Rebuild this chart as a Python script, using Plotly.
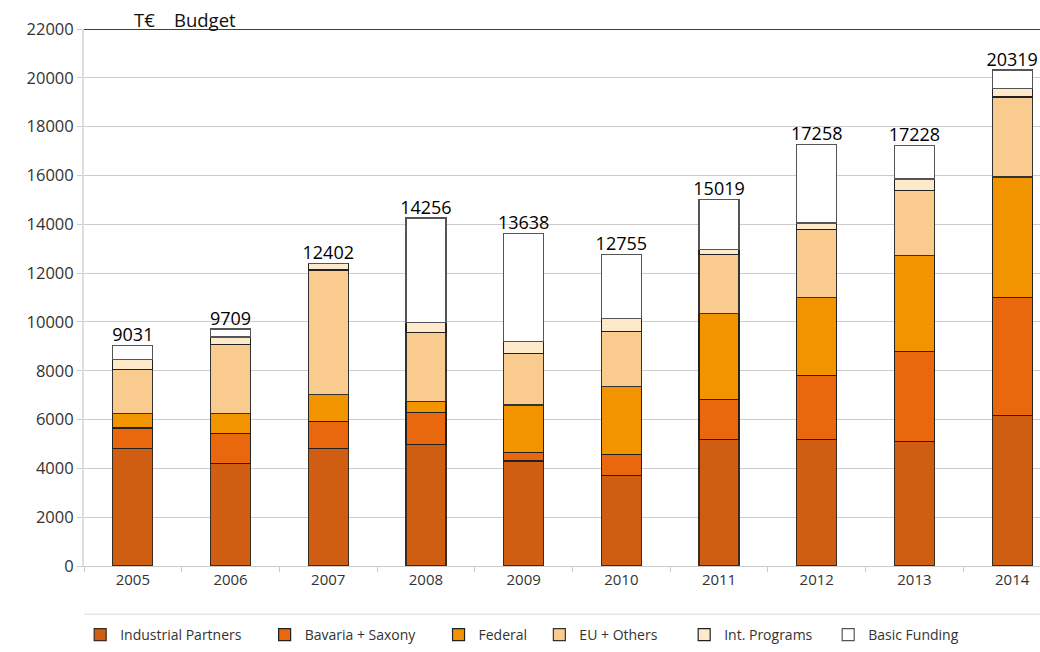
import plotly.graph_objects as go

years = ["2005", "2006", "2007", "2008", "2009", "2010", "2011", "2012", "2013", "2014"]
industrial = [4820, 4207, 4820, 4985, 4301, 3714, 5190, 5190, 5093, 6158]
bavaria = [830, 1230, 1107, 1311, 356, 861, 1639, 2607, 3701, 4848]
federal = [605, 820, 1092, 450, 1939, 2785, 3523, 3196, 3933, 4930]
eu_others = [1800, 2827, 5107, 2827, 2117, 2253, 2417, 2799, 2663, 3277]
int_programs = [410, 300, 276, 410, 491, 519, 191, 260, 465, 341]
totals = [9031, 9709, 12402, 14256, 13638, 12755, 15019, 17258, 17228, 20319]
basic = [t - a - b - c - d - e for t, a, b, c, d, e in
         zip(totals, industrial, bavaria, federal, eu_others, int_programs)]

NB = "\u00a0"
series = [
    ("Industrial Partners", industrial, "#D05E12", "#3a2a20", 5),
    ("Bavaria + Saxony", bavaria, "#E9680E", "#222222", 5),
    ("Federal", federal, "#F29400", "#222222", 2),
    ("EU + Others", eu_others, "#FACB8E", "#333333", 6),
    ("Int. Programs", int_programs, "#FEE9CA", "#222222", 3),
    ("Basic Funding", basic, "#FFFFFF", "#555555", 0),
]

fig = go.Figure()
for name, vals, color, line, pad in series:
    fig.add_trace(go.Bar(
        x=years, y=vals, name=name + NB * pad,
        marker=dict(color=color, line=dict(color=line, width=1.2)),
        hoverinfo="skip",
    ))

fig.add_trace(go.Scatter(
    x=years, y=totals, mode="text", text=[str(t) for t in totals],
    textposition="top center", showlegend=False,
    textfont=dict(size=18, color="#000000", family="Open Sans"),
    hoverinfo="skip", cliponaxis=False,
))

fig.update_layout(
    width=1040, height=652,
    margin=dict(l=84, r=0, t=29, b=86, autoexpand=False),
    paper_bgcolor="white", plot_bgcolor="white",
    barmode="stack", bargap=0.59,
    font=dict(family="Open Sans", color="#333333", size=14),
    showlegend=True,
    legend=dict(orientation="h", x=-0.004, xanchor="left",
                y=-0.1285, yanchor="middle",
                font=dict(size=14, color="#333333"), traceorder="normal",
                itemwidth=30),
    xaxis=dict(type="category", range=[-0.5, 9.285], showgrid=False,
               ticks="outside", tickson="boundaries", ticklen=5, tickcolor="#cccccc",
               showline=True, linecolor="#cccccc", linewidth=1,
               tickfont=dict(size=15, color="#333333")),
    yaxis=dict(range=[0, 22000], tickvals=list(range(0, 22001, 2000)),
               showgrid=True, gridcolor="#cccccc", gridwidth=1,
               ticks="outside", ticklen=5, tickcolor="#cccccc",
               showline=True, linecolor="#dddddd", linewidth=2,
               zeroline=False, tickformat="d",
               tickfont=dict(size=16.5, color="#333333")),
    shapes=[
        dict(type="line", xref="paper", yref="y", x0=0, x1=1, y0=22000, y1=22000,
             line=dict(color="black", width=1.5)),
        dict(type="line", xref="paper", yref="paper", x0=0, x1=1, y0=-0.09, y1=-0.09,
             line=dict(color="#e6e6e6", width=1.5)),
    ],
    annotations=[
        dict(text="T€    Budget", xref="paper", yref="paper", x=0.05, y=1.0,
             xanchor="left", yanchor="bottom", yshift=-5, showarrow=False,
             font=dict(size=18.5, color="#111111")),
    ],
)

fig.write_html("out.html")
